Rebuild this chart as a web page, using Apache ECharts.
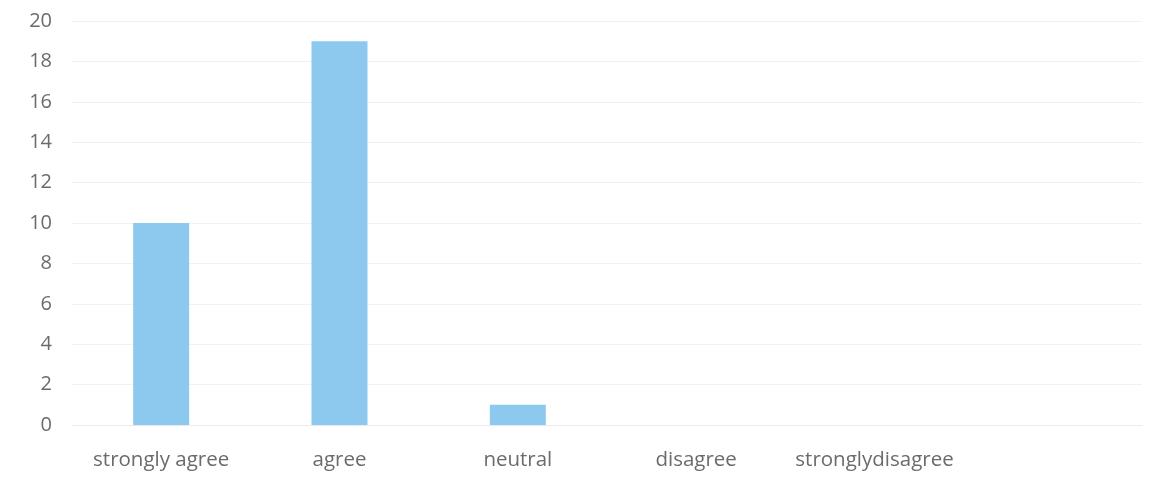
<!DOCTYPE html>
<html lang="en">
	<head>
		<meta charset="utf-8" />
		<title>Survey responses</title>
		<style>
			html, body { margin: 0; padding: 0; background: #fff; }
		</style>
	</head>
	<body>
		<div id="main" style="width: 1162px; height: 483px;"></div>

		<script src="https://cdn.jsdelivr.net/npm/echarts@6/dist/echarts.min.js"></script>
		<script type="text/javascript">
			// categories (the last slot is left empty in the original)
			const categories = ['strongly agree', 'agree', 'neutral', 'disagree', 'stronglydisagree', ''];
			const counts = [10, 19, 1, 0, 0, null];
			const yTicks = { min: 0, max: 20, interval: 2 };

			const myChart = echarts.init(document.getElementById('main'));

			const option = {
				animation: false,
				grid: { left: 72, right: 20, top: 21, bottom: 58 },
				xAxis: {
					type: 'category',
					data: categories,
					axisLine: { lineStyle: { color: '#ebebeb' } },
					axisTick: { show: false },
					axisLabel: {
						color: '#6b6b6b',
						fontFamily: 'Open Sans',
						fontSize: 20.5,
						margin: 25,
						interval: 0,
					},
				},
				yAxis: {
					type: 'value',
					min: yTicks.min,
					max: yTicks.max,
					interval: yTicks.interval,
					axisLine: { show: false },
					axisTick: { show: false },
					axisLabel: {
						color: '#6b6b6b',
						fontFamily: 'Open Sans',
						fontSize: 20,
						margin: 20,
					},
					splitLine: { lineStyle: { color: '#f1f1f1' } },
				},
				series: [
					{
						type: 'bar',
						data: counts,
						barWidth: 56,
						itemStyle: { color: '#8dc9ef' },
					},
				],
			};
			myChart.setOption(option);
		</script>
	</body>
</html>
